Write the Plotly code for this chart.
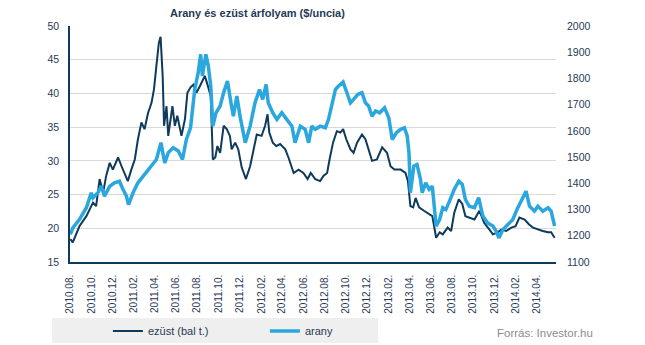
import plotly.graph_objects as go

silver_dates = ["2010-08-02","2010-08-09","2010-08-28","2010-09-17","2010-10-06","2010-10-15","2010-10-25","2010-11-04","2010-11-13","2010-11-23",
"2010-12-02","2010-12-17","2010-12-27","2011-01-05","2011-01-14","2011-01-24","2011-02-03","2011-02-12","2011-02-22","2011-03-03",
"2011-03-13","2011-03-23","2011-03-30","2011-04-06","2011-04-13","2011-04-18","2011-04-24","2011-04-28","2011-05-05","2011-05-10",
"2011-05-22","2011-05-29","2011-06-05","2011-06-17","2011-06-27","2011-07-04","2011-07-13","2011-07-21","2011-07-30","2011-08-09",
"2011-08-23","2011-09-02","2011-09-09","2011-09-15","2011-09-22","2011-09-28","2011-10-06","2011-10-16","2011-10-25","2011-11-03",
"2011-11-08","2011-11-18","2011-11-27","2011-12-07","2011-12-19","2011-12-31","2012-01-09","2012-01-19","2012-02-02","2012-02-12",
"2012-02-19","2012-02-24","2012-03-05","2012-03-15","2012-03-26","2012-04-10","2012-04-19","2012-05-04","2012-05-18","2012-06-01",
"2012-06-13","2012-06-22","2012-07-05","2012-07-19","2012-07-29","2012-08-08","2012-08-15","2012-08-25","2012-09-05","2012-09-15",
"2012-09-23","2012-10-02","2012-10-14","2012-10-23","2012-11-02","2012-11-16","2012-11-26","2012-12-05","2012-12-15","2012-12-29",
"2013-01-13","2013-01-27","2013-02-06","2013-02-17","2013-03-07","2013-03-21","2013-03-28","2013-04-04","2013-04-12","2013-04-19",
"2013-04-29","2013-05-13","2013-05-28","2013-06-06","2013-06-17","2013-06-27","2013-07-06","2013-07-20","2013-07-30","2013-08-08",
"2013-08-21","2013-08-31","2013-09-09","2013-09-20","2013-10-05","2013-10-19","2013-11-02","2013-11-17","2013-11-27","2013-12-11",
"2013-12-21","2014-01-04","2014-01-19","2014-01-31","2014-02-11","2014-02-26","2014-03-10","2014-03-22","2014-04-05","2014-04-19",
"2014-05-04","2014-05-13","2014-05-23"]
silver_values = [18.4,17.9,20.3,21.8,23.8,23.3,27.3,25.3,27.8,29.7,
28.7,30.5,29.2,28.2,27.0,28.7,30.2,33.2,35.7,34.7,
37.1,38.6,40.6,44.1,47.5,48.4,42.6,35.2,38.1,33.7,
38.1,35.2,36.7,33.7,36.2,40.1,40.9,41.3,40.1,41.1,
42.6,40.9,39.6,30.2,30.5,32.2,31.2,35.2,34.7,33.7,
31.7,32.7,31.7,29.0,27.3,29.2,31.7,33.9,33.7,35.2,
36.9,34.2,32.7,32.2,32.5,31.7,30.5,28.2,28.7,28.2,
27.3,28.2,27.3,27.0,27.8,28.2,30.2,32.7,34.4,34.2,
34.7,33.2,31.7,31.2,32.7,33.9,33.2,31.7,30.0,30.2,
32.0,31.2,29.2,28.7,28.7,28.2,27.0,23.3,23.1,24.5,
23.1,22.6,22.1,21.8,18.6,19.4,19.1,20.1,19.6,22.3,
24.3,23.6,21.8,21.6,21.3,22.6,20.8,19.8,19.1,19.4,
19.8,19.6,20.1,20.3,21.6,21.3,20.6,20.1,19.8,19.6,
19.4,19.4,18.6]

gold_dates = ["2010-08-02","2010-08-09","2010-08-28","2010-09-17","2010-10-01","2010-10-06","2010-10-20","2010-10-30","2010-11-08","2010-11-23",
"2010-12-07","2010-12-21","2010-12-31","2011-01-10","2011-01-16","2011-01-29","2011-02-12","2011-02-27","2011-03-13","2011-03-28",
"2011-04-06","2011-04-19","2011-04-30","2011-05-10","2011-05-24","2011-06-08","2011-06-20","2011-07-01","2011-07-13","2011-07-25",
"2011-08-04","2011-08-11","2011-08-16","2011-08-26","2011-09-02","2011-09-09","2011-09-15","2011-09-24","2011-10-06","2011-10-16",
"2011-10-27","2011-11-06","2011-11-13","2011-11-23","2011-12-02","2011-12-17","2011-12-31","2012-01-14","2012-01-27","2012-02-05",
"2012-02-15","2012-02-21","2012-03-05","2012-03-17","2012-03-31","2012-04-14","2012-04-29","2012-05-08","2012-05-23","2012-06-06",
"2012-06-16","2012-06-25","2012-07-05","2012-07-19","2012-08-03","2012-08-12","2012-08-22","2012-09-01","2012-09-10","2012-09-23",
"2012-10-02","2012-10-14","2012-10-23","2012-11-04","2012-11-16","2012-11-26","2012-12-05","2012-12-15","2012-12-25","2013-01-06",
"2013-01-20","2013-02-01","2013-02-11","2013-02-23","2013-03-07","2013-03-18","2013-03-26","2013-03-31","2013-04-04","2013-04-14",
"2013-04-23","2013-05-03","2013-05-08","2013-05-18","2013-05-28","2013-06-06","2013-06-17","2013-06-27","2013-07-06","2013-07-15",
"2013-07-27","2013-08-08","2013-08-21","2013-08-31","2013-09-09","2013-09-20","2013-10-05","2013-10-17","2013-10-29","2013-11-12",
"2013-11-27","2013-12-06","2013-12-14","2013-12-26","2014-01-09","2014-01-23","2014-02-04","2014-02-16","2014-03-02","2014-03-12",
"2014-03-26","2014-04-05","2014-04-19","2014-05-04","2014-05-13","2014-05-23"]
gold_values = [1205,1230,1262,1307,1364,1345,1364,1389,1351,1389,
1402,1408,1377,1351,1319,1364,1402,1427,1453,1478,
1491,1555,1478,1517,1536,1523,1491,1567,1612,1758,
1822,1892,1809,1892,1847,1771,1618,1669,1695,1746,
1790,1707,1656,1733,1656,1555,1618,1707,1758,1720,
1777,1707,1669,1644,1669,1644,1618,1555,1618,1606,
1555,1618,1606,1618,1612,1644,1695,1758,1771,1786,
1752,1707,1720,1739,1746,1707,1695,1656,1676,1669,
1688,1650,1567,1593,1606,1612,1580,1517,1364,1466,
1472,1415,1364,1402,1377,1389,1237,1262,1307,1300,
1338,1377,1408,1396,1338,1313,1307,1345,1275,1249,
1237,1218,1192,1224,1243,1262,1300,1332,1370,1313,
1294,1313,1294,1307,1294,1237]

left_ticks = [15, 20, 25, 30, 35, 40, 45, 50]
right_ticks = [1100, 1200, 1300, 1400, 1500, 1600, 1700, 1800, 1900, 2000]

NAVY = "#0E3A5B"
BLUE = "#2AA7DE"
TXT = "#1F3A56"
FONT = "Liberation Sans"

fig = go.Figure()
fig.add_trace(go.Scatter(x=silver_dates, y=silver_values, name="ezüst (bal t.)", mode="lines",
                         line=dict(color=NAVY, width=2), yaxis="y"))
fig.add_trace(go.Scatter(x=gold_dates, y=gold_values, name="arany", mode="lines",
                         line=dict(color=BLUE, width=3.5), yaxis="y2"))

fig.update_layout(
    width=645, height=345,
    template="none",
    paper_bgcolor="white", plot_bgcolor="white",
    margin=dict(l=70, r=89, t=26, b=83, autoexpand=False),
    font=dict(family=FONT, color=TXT, size=10),
    xaxis=dict(type="date", range=["2010-08-01", "2014-05-27"],
               tick0="2010-08-01", dtick="M2", tickformat="%Y.%m.",
               tickangle=-90, showgrid=False, showline=True, linecolor=NAVY, linewidth=1.5,
               ticks="", ticklabelstandoff=7, tickfont=dict(size=10, color=TXT),
               automargin=False, zeroline=False),
    yaxis=dict(range=[15, 50], tickvals=left_ticks, showgrid=True, gridcolor="#D9D9D9", gridwidth=1,
               showline=True, linecolor=NAVY, linewidth=1.5, ticks="", ticklabelstandoff=7,
               tickfont=dict(size=10.5, color=TXT), automargin=False, zeroline=False),
    yaxis2=dict(range=[1100, 2000], tickvals=right_ticks, overlaying="y", side="right",
                showgrid=False, showline=False, ticks="", ticklabelstandoff=10,
                tickfont=dict(size=10.5, color=TXT), automargin=False, zeroline=False),
    showlegend=True,
    legend=dict(orientation="h", x=0.078, xanchor="left", y=-0.292, yanchor="middle",
                bgcolor="rgba(0,0,0,0)", font=dict(size=11, color=TXT),
                entrywidth=112, entrywidthmode="pixels", itemwidth=30),
    shapes=[dict(type="rect", xref="paper", yref="paper", x0=-0.037, x1=0.634, y0=-0.237, y1=-0.343,
                 fillcolor="#EFEFEF", line=dict(width=0), layer="below")],
    annotations=[
        dict(text="<b>Arany és ezüst árfolyam ($/uncia)</b>", xref="paper", yref="paper",
             x=0.385, y=1.055, xanchor="center", yanchor="middle", showarrow=False,
             font=dict(size=11, color=TXT, family=FONT)),
        dict(text="Forrás: Investor.hu", xref="paper", yref="paper", x=1.080, y=-0.301,
             xanchor="right", yanchor="middle", showarrow=False,
             font=dict(size=11.5, color="#8C8C8C", family=FONT)),
    ],
)

fig.write_html("out.html")
